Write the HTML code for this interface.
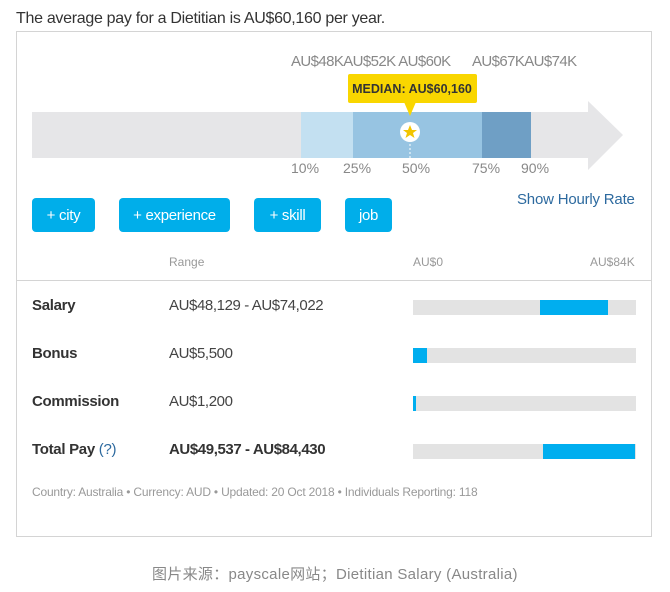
<!DOCTYPE html>
<html><head><meta charset="utf-8"><style>
*{margin:0;padding:0;box-sizing:border-box}
body{width:670px;height:592px;background:#fff;position:relative;overflow:hidden;font-family:"Liberation Sans","Noto Sans CJK SC",sans-serif;color:#333}
.a{position:absolute;white-space:nowrap;line-height:1}
.g{color:#888}
.btn{position:absolute;top:198px;height:34px;background:#00aeea;border-radius:4px;color:#fff;font-size:15px;line-height:35px;text-align:center;letter-spacing:-0.3px}
.bar{position:absolute;left:413px;width:223px;height:15px;background:#e3e3e3}
.bar i{position:absolute;top:0;height:15px;background:#00aeef}
.lbl{font-size:15px;font-weight:bold;color:#333;letter-spacing:-0.3px}
.rng{font-size:15px;color:#444;letter-spacing:-0.4px}
</style></head><body>
<div class="a" style="left:16px;top:11px;font-size:16px;color:#333;letter-spacing:-0.3px">The average pay for a Dietitian is AU$60,160 per year.</div>
<div style="position:absolute;left:16px;top:31px;width:636px;height:506px;border:1px solid #d4d4d4"></div>

<div class="a g" style="left:291px;top:54px;font-size:15px;color:#888;letter-spacing:-0.6px">AU$48KAU$52K AU$60K</div>
<div class="a g" style="left:472px;top:54px;font-size:15px;color:#888;letter-spacing:-0.6px">AU$67KAU$74K</div>

<svg style="position:absolute;left:0;top:0" width="670" height="200">
<rect x="32" y="112" width="560" height="46" fill="#e6e6e8"/>
<polygon points="588,101 623,135 588,170" fill="#e6e6e8"/>
<rect x="301" y="112" width="52" height="46" fill="#c3e0f1"/>
<rect x="353" y="112" width="129" height="46" fill="#97c4e2"/>
<rect x="482" y="112" width="49" height="46" fill="#6f9fc5"/>
<line x1="410" y1="140" x2="410" y2="158" stroke="#fff" stroke-dasharray="2,2"/>
<rect x="348" y="74" width="129" height="29" rx="2" fill="#f9d600"/>
<polygon points="404,102 416,102 410,116" fill="#f9d600"/>
<circle cx="410" cy="132" r="10" fill="#fff"/>
<polygon points="410,125 412,130 417,130 413,133 414.5,138 410,135 405.5,138 407,133 403,130 408,130" fill="#f2c500"/>
<text x="412" y="93" text-anchor="middle" font-family="Liberation Sans" font-size="12.5" font-weight="bold" fill="#333">MEDIAN: AU$60,160</text>
</svg>
<div class="a" style="left:291px;top:161px;font-size:14px;color:#888">10%</div>
<div class="a" style="left:343px;top:161px;font-size:14px;color:#888">25%</div>
<div class="a" style="left:402px;top:161px;font-size:14px;color:#888">50%</div>
<div class="a" style="left:472px;top:161px;font-size:14px;color:#888">75%</div>
<div class="a" style="left:521px;top:161px;font-size:14px;color:#888">90%</div>

<div class="btn" style="left:32px;width:63px">+ city</div>
<div class="btn" style="left:119px;width:111px">+ experience</div>
<div class="btn" style="left:254px;width:67px">+ skill</div>
<div class="btn" style="left:345px;width:47px">job</div>
<div class="a" style="left:517px;top:192px;font-size:15px;color:#2d6a9f;letter-spacing:-0.2px">Show Hourly Rate</div>

<div class="a" style="left:169px;top:256px;font-size:12px;color:#999">Range</div>
<div class="a" style="left:413px;top:256px;font-size:12px;color:#999">AU$0</div>
<div class="a" style="left:590px;top:256px;font-size:12px;color:#999">AU$84K</div>
<div style="position:absolute;left:16px;top:280px;width:636px;height:1px;background:#d4d4d4"></div>

<div class="a lbl" style="left:32px;top:298px">Salary</div>
<div class="a rng" style="left:169px;top:298px">AU$48,129 - AU$74,022</div>
<div class="bar" style="top:300px"><i style="left:127px;width:68px"></i></div>

<div class="a lbl" style="left:32px;top:346px">Bonus</div>
<div class="a rng" style="left:169px;top:346px">AU$5,500</div>
<div class="bar" style="top:348px"><i style="left:0;width:14px"></i></div>

<div class="a lbl" style="left:32px;top:394px">Commission</div>
<div class="a rng" style="left:169px;top:394px">AU$1,200</div>
<div class="bar" style="top:396px"><i style="left:0;width:3px"></i></div>

<div class="a lbl" style="left:32px;top:442px">Total Pay <span style="font-weight:normal;color:#2d6a9f">(?)</span></div>
<div class="a rng" style="left:169px;top:442px;font-weight:bold;color:#333">AU$49,537 - AU$84,430</div>
<div class="bar" style="top:444px"><i style="left:130px;width:92px"></i></div>

<div class="a" style="left:32px;top:486px;font-size:12px;color:#999;letter-spacing:-0.2px">Country: Australia &bull; Currency: AUD &bull; Updated: 20 Oct 2018 &bull; Individuals Reporting: 118</div>

<div class="a" style="left:152px;top:567px;font-size:15px;color:#888;letter-spacing:0.3px">图片来源：payscale网站；Dietitian Salary (Australia)</div>
</body></html>
